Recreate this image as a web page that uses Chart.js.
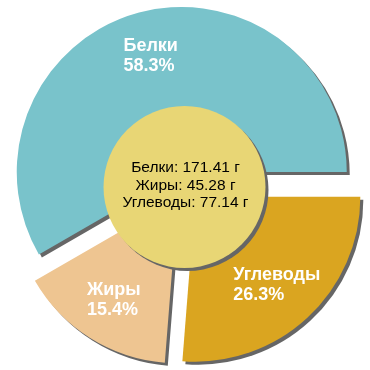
<!DOCTYPE html>
<html lang="ru">

<head>
    <meta charset="UTF-8">
    <title>Белки, жиры, углеводы</title>
    <script src="https://cdn.jsdelivr.net/npm/chart.js"></script>
    <style>
        body { margin: 0; background: #fff; }
        #wrap { width: 370px; height: 370px; }
    </style>
</head>

<body>
    <div id="wrap">
        <canvas id="pfcChart" width="370" height="370"></canvas>
    </div>

    <script>
        // nutrients, grams
        const labels = ['Белки', 'Жиры', 'Углеводы'];
        const grams = [171.41, 45.28, 77.14];
        const colors = ['#79c3cb', '#eec591', '#daa520'];

        const total = grams.reduce((a, b) => a + b, 0);
        const percents = grams.map(v => (v / total * 100).toFixed(1) + '%');

        // chart.js draws clockwise, the picture goes the other way round
        const order = [2, 1, 0];

        const FONT = 'Arial, "Liberation Sans", sans-serif';
        const pieRadius = 165;
        const sliceShift = 58; // chart.js moves a slice by offset/4

        const shadowOn = ctx => {
            ctx.shadowColor = '#666';
            ctx.shadowOffsetX = 3;
            ctx.shadowOffsetY = 3;
            ctx.shadowBlur = 0;
        };

        const piePlugin = {
            id: 'piePlugin',
            beforeDatasetsDraw(chart) {
                const ctx = chart.ctx;
                // keep every slice the same size; chart.js grows and trims big slices
                chart.getDatasetMeta(0).data.forEach(el => {
                    if (el._fixed) return;
                    const d = (el.options.offset || 0) / 4;
                    const fix = 1 - Math.sin(Math.min(Math.PI, el.circumference));
                    const grow = d * fix;
                    el.outerRadius = pieRadius - grow;
                    const trim = grow / (2 * Math.PI * pieRadius);
                    el.startAngle -= trim;
                    el.endAngle += trim;
                    el._fixed = true;
                });
                ctx.save();
                shadowOn(ctx);
            },
            afterDatasetsDraw(chart) {
                const ctx = chart.ctx;
                ctx.restore();

                const meta = chart.getDatasetMeta(0);
                const cx = meta.data[0].x;
                const cy = meta.data[0].y;

                // slice labels
                ctx.save();
                ctx.fillStyle = '#fff';
                ctx.font = 'bold 18px ' + FONT;
                ctx.textAlign = 'left';
                ctx.textBaseline = 'middle';
                meta.data.forEach((el, i) => {
                    const k = order[i];
                    const mid = (el.startAngle + el.endAngle) / 2;
                    const r = (el.options.offset || 0) / 4 + 120;
                    const lx = el.x + Math.cos(mid) * r;
                    const ly = el.y + Math.sin(mid) * r;
                    const w = Math.max(ctx.measureText(labels[k]).width, ctx.measureText(percents[k]).width);
                    ctx.fillText(labels[k], lx - w / 2, ly - 10);
                    ctx.fillText(percents[k], lx - w / 2, ly + 10);
                });
                ctx.restore();

                // centre disc
                ctx.save();
                shadowOn(ctx);
                ctx.fillStyle = '#e8d675';
                ctx.beginPath();
                ctx.arc(cx - 1, cy + 1, 81, 0, Math.PI * 2);
                ctx.fill();
                ctx.restore();

                ctx.save();
                ctx.fillStyle = '#000';
                ctx.font = '15.5px ' + FONT;
                ctx.textAlign = 'center';
                ctx.textBaseline = 'alphabetic';
                labels.forEach((name, i) => {
                    ctx.fillText(name + ': ' + grams[i].toFixed(2) + ' г', cx, cy - 14 + i * 17.5);
                });
                ctx.restore();
            }
        };

        const ctx = document.getElementById('pfcChart').getContext('2d');
        const pfcChart = new Chart(ctx, {
            type: 'pie',
            data: {
                labels: order.map(i => labels[i]),
                datasets: [{
                    data: order.map(i => grams[i]),
                    backgroundColor: order.map(i => colors[i]),
                    borderWidth: 0,
                    offset: sliceShift
                }]
            },
            options: {
                responsive: false,
                animation: false,
                rotation: 90,
                layout: { padding: { top: 2, left: 1 } },
                plugins: {
                    legend: { display: false },
                    tooltip: { enabled: false }
                }
            },
            plugins: [piePlugin]
        });
    </script>

</body>

</html>
